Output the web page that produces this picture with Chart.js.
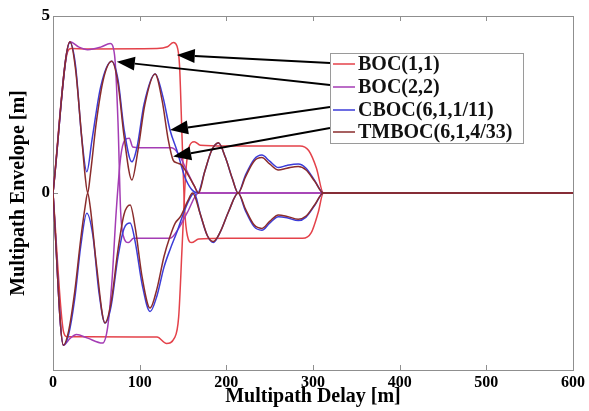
<!DOCTYPE html>
<html>
<head>
<meta charset="utf-8">
<script src="https://cdn.jsdelivr.net/npm/chart.js@4.4.1/dist/chart.umd.min.js"></script>
<style>
  html, body { margin: 0; padding: 0; background: #fff; }
  #wrap { width: 589px; height: 411px; }
</style>
</head>
<body>
<div id="wrap"><canvas id="envChart" width="589" height="411"></canvas></div>
<script>
// Series names and colours (legend order)
var seriesNames = ['BOC(1,1)', 'BOC(2,2)', 'CBOC(6,1,1/11)', 'TMBOC(6,1,4/33)'];
var seriesColors = ['#e4424a', '#a43cb4', '#3c3cd8', '#8a2c2c'];

// Axis ticks
var xTicks = [0, 100, 200, 300, 400, 500, 600];
var yTicks = [-5, 0, 5];
var yTickLabels = ['', '0', '5'];

// Envelope curves: [delay (m), error (m)] - upper and lower branch of each signal
var boc11Up = [[0, 0], [17, 4.0], [21, 4.08], [40, 4.07], [120, 4.08], [132, 4.13], [139, 4.25], [143, 4.15],
  [146, 3.6], [149, 1.5], [152, -0.5], [155, -1.2], [160, -1.4], [168, -1.3], [200, -1.28], [288, -1.28],
  [298, -1.12], [306, -0.55], [312, 0], [497, 0]];
var boc11Low = [[0, 0], [12, -3.9], [16, -4.06], [40, -4.06], [120, -4.07], [131, -4.25], [140, -4.1],
  [145, -3.5], [149, -1.5], [153, 0.5], [157, 1.3], [163, 1.45], [170, 1.35], [200, 1.33], [285, 1.33],
  [295, 1.2], [304, 0.7], [312, 0], [497, 0]];

var boc22Up = [[0, 0], [19.6, 4.27], [30, 4.12], [40, 4.05], [55, 4.12], [66, 4.22], [71, 3.9], [75, 2.0],
  [78, -0.5], [81, -1.2], [87, -1.4], [93, -1.28], [135, -1.28], [145, -1.0], [155, -0.55], [168, 0], [600, 0]];
var boc22Low = [[0, 0], [12, -4.3], [20, -4.1], [27, -4.0], [40, -4.1], [57, -4.24], [63, -3.8], [68, -2.5],
  [73, -0.5], [78, 1.0], [83, 1.5], [88, 1.55], [92, 1.3], [100, 1.28], [137, 1.28], [145, 1.1], [155, 0.6],
  [163, 0.2], [168, 0], [600, 0]];

var cbocUp = [[0, 0], [19.6, 4.25], [26, 3.6], [33, 1.6], [39, 0.6], [45, 1.5], [55, 3.0], [67.7, 3.72],
  [75, 3.2], [82, 1.8], [91, 0.88], [97, 1.3], [105, 2.5], [117.8, 3.36], [127, 2.7], [135, 1.78], [143, 1.2],
  [152, 0.46], [160, 0.1], [167, 0], [175, 0.6], [183, 1.2], [191, 1.41], [199, 1.0], [207, 0.4], [213.6, 0],
  [222, 0.5], [232, 0.95], [241, 1.07], [250, 0.9], [260, 0.72], [270, 0.78], [283, 0.82], [292, 0.7],
  [302, 0.35], [312, 0], [600, 0]];
var cbocLow = [[0, 0], [12, -4.3], [18, -4.0], [25, -3.0], [32, -1.5], [39, -0.57], [46, -1.2], [53, -2.8],
  [60, -3.67], [67, -3.2], [75, -1.8], [82, -1.0], [89, -0.85], [95, -1.4], [103, -2.6], [112, -3.35],
  [120, -2.9], [128, -2.1], [135, -1.6], [143, -1.1], [152, -0.48], [158, -0.15], [163, 0], [170, -0.6],
  [178, -1.2], [185, -1.4], [193, -1.1], [203, -0.5], [213.6, 0], [222, -0.5], [232, -0.95], [241, -1.05],
  [250, -0.85], [260, -0.67], [270, -0.7], [283, -0.78], [292, -0.68], [302, -0.35], [312, 0], [600, 0]];

var tmbocUp = [[0, 0], [19.6, 4.27], [26, 3.5], [33, 1.6], [37, 0.5], [40, 0], [43, 0.5], [50, 2.0], [58, 3.2],
  [67.7, 3.72], [75, 3.1], [82, 1.6], [91, 0.37], [98, 1.2], [106, 2.5], [117.8, 3.36], [126, 2.6], [133, 1.5],
  [138.6, 0.93], [143, 0.85], [148, 0.8], [155, 0.55], [163, 0.2], [168, 0], [175, 0.6], [183, 1.2],
  [191, 1.42], [199, 1.0], [207, 0.4], [213.6, 0], [222, 0.45], [232, 0.9], [241, 1.0], [250, 0.82],
  [260, 0.65], [270, 0.7], [283, 0.75], [292, 0.65], [302, 0.33], [312, 0], [600, 0]];
var tmbocLow = [[0, 0], [12, -4.3], [18, -3.9], [25, -2.8], [32, -1.3], [37, -0.4], [40, 0], [43, -0.4],
  [50, -2.0], [60, -3.67], [67, -3.1], [75, -1.6], [82, -0.6], [89, -0.34], [95, -1.0], [103, -2.4],
  [112, -3.25], [120, -2.7], [128, -1.8], [135, -1.23], [141, -0.85], [147, -0.67], [156, -0.2], [161, 0],
  [170, -0.6], [178, -1.2], [185, -1.37], [193, -1.1], [203, -0.5], [213.6, 0], [222, -0.45], [232, -0.9],
  [241, -1.0], [250, -0.8], [260, -0.62], [270, -0.66], [283, -0.74], [292, -0.65], [302, -0.33], [312, 0],
  [600, 0]];

// Arrow tips (data coords) pointing from the legend rows
var arrowTips = [[142.8, 3.9], [73.6, 3.71], [135, 1.78], [138.6, 1.03]];

var curves = [
  [boc11Up, boc11Low],
  [boc22Up, boc22Low],
  [cbocUp, cbocLow],
  [tmbocUp, tmbocLow]
];

function toPts(arr) {
  return arr.map(function(p) { return { x: p[0], y: p[1] }; });
}

var datasets = [];
curves.forEach(function(pair, i) {
  pair.forEach(function(branch) {
    datasets.push({
      label: seriesNames[i],
      data: toPts(branch),
      borderColor: seriesColors[i],
      borderWidth: 1.5,
      pointRadius: 0,
      fill: false,
      cubicInterpolationMode: 'monotone',
      order: 4 - i
    });
  });
});

var serif = "'Liberation Serif', 'Times New Roman', serif";

// Box around plot + inward ticks (MATLAB style)
var boxPlugin = {
  id: 'box',
  beforeDatasetsDraw: function(chart) {
    var ctx = chart.ctx, a = chart.chartArea, xs = chart.scales.x, ys = chart.scales.y;
    ctx.save();
    ctx.strokeStyle = '#8f8f8f';
    ctx.lineWidth = 1;
    ctx.strokeRect(a.left + 0.5, a.top + 0.5, a.right - a.left, a.bottom - a.top);
    ctx.beginPath();
    xTicks.forEach(function(v) {
      var px = Math.round(xs.getPixelForValue(v)) + 0.5;
      ctx.moveTo(px, a.bottom); ctx.lineTo(px, a.bottom - 5);
      ctx.moveTo(px, a.top); ctx.lineTo(px, a.top + 5);
    });
    yTicks.forEach(function(v) {
      var py = Math.round(ys.getPixelForValue(v)) + 0.5;
      ctx.moveTo(a.left, py); ctx.lineTo(a.left + 5, py);
      ctx.moveTo(a.right, py); ctx.lineTo(a.right - 5, py);
    });
    ctx.stroke();
    ctx.restore();
  }
};

// Legend box with arrows to the curves
var legendPlugin = {
  id: 'boxLegend',
  afterDraw: function(chart) {
    var ctx = chart.ctx, xs = chart.scales.x, ys = chart.scales.y;
    var bx = 330, by = 53, bw = 193, bh = 90;
    var rows = [64, 87, 110, 132];
    var tails = [63, 85, 107, 128];
    ctx.save();
    // arrows
    ctx.strokeStyle = '#000';
    ctx.fillStyle = '#000';
    ctx.lineWidth = 2;
    arrowTips.forEach(function(t, i) {
      var tx = xs.getPixelForValue(t[0]), ty = ys.getPixelForValue(t[1]);
      var sx = bx, sy = tails[i];
      var ang = Math.atan2(ty - sy, tx - sx);
      var hl = 18, hw = 7;
      var bxp = tx - hl * Math.cos(ang), byp = ty - hl * Math.sin(ang);
      ctx.beginPath();
      ctx.moveTo(sx, sy);
      ctx.lineTo(bxp, byp);
      ctx.stroke();
      ctx.beginPath();
      ctx.moveTo(tx, ty);
      ctx.lineTo(bxp + hw * Math.sin(ang), byp - hw * Math.cos(ang));
      ctx.lineTo(bxp - hw * Math.sin(ang), byp + hw * Math.cos(ang));
      ctx.closePath();
      ctx.fill();
    });
    // box
    ctx.fillStyle = '#fff';
    ctx.fillRect(bx, by, bw, bh);
    ctx.strokeStyle = '#9a9a9a';
    ctx.lineWidth = 1;
    ctx.strokeRect(bx + 0.5, by + 0.5, bw, bh);
    // entries
    ctx.font = 'bold 20px ' + serif;
    ctx.textBaseline = 'middle';
    ctx.textAlign = 'left';
    seriesNames.forEach(function(name, i) {
      ctx.strokeStyle = seriesColors[i];
      ctx.lineWidth = 1.5;
      ctx.beginPath();
      ctx.moveTo(bx + 3, rows[i]);
      ctx.lineTo(bx + 25, rows[i]);
      ctx.stroke();
      ctx.fillStyle = '#111';
      ctx.fillText(name, bx + 28, rows[i] + 1);
    });
    ctx.restore();
  }
};

new Chart(document.getElementById('envChart').getContext('2d'), {
  type: 'line',
  data: { datasets: datasets },
  options: {
    responsive: false,
    animation: false,
    devicePixelRatio: 1,
    layout: { padding: { left: 0, top: 16, right: 16, bottom: 0 } },
    plugins: {
      legend: { display: false },
      tooltip: { enabled: false }
    },
    scales: {
      x: {
        type: 'linear',
        min: 0,
        max: 600,
        grid: { display: false, drawTicks: false },
        border: { display: false },
        ticks: {
          stepSize: 100,
          padding: 3,
          color: '#000',
          maxRotation: 0,
          font: { family: serif, size: 16, weight: 'bold' }
        },
        title: {
          display: true,
          text: 'Multipath Delay [m]',
          color: '#000',
          padding: { top: 0, bottom: 2 },
          font: { family: serif, size: 20, weight: 'bold', lineHeight: 1.2 }
        },
        afterFit: function(s) { s.height = 41; }
      },
      y: {
        min: -5,
        max: 5,
        grid: { display: false, drawTicks: false },
        border: { display: false },
        ticks: {
          stepSize: 5,
          padding: 3,
          color: '#000',
          font: { family: serif, size: 17, weight: 'bold' },
          callback: function(v) {
            var k = yTicks.indexOf(v);
            return k >= 0 ? yTickLabels[k] : '';
          }
        },
        title: {
          display: true,
          text: 'Multipath Envelope [m]',
          color: '#000',
          padding: { top: 7, bottom: 0 },
          font: { family: serif, size: 20, weight: 'bold', lineHeight: 1.2 }
        },
        afterFit: function(s) { s.width = 53; }
      }
    }
  },
  plugins: [boxPlugin, legendPlugin]
});
</script>
</body>
</html>
